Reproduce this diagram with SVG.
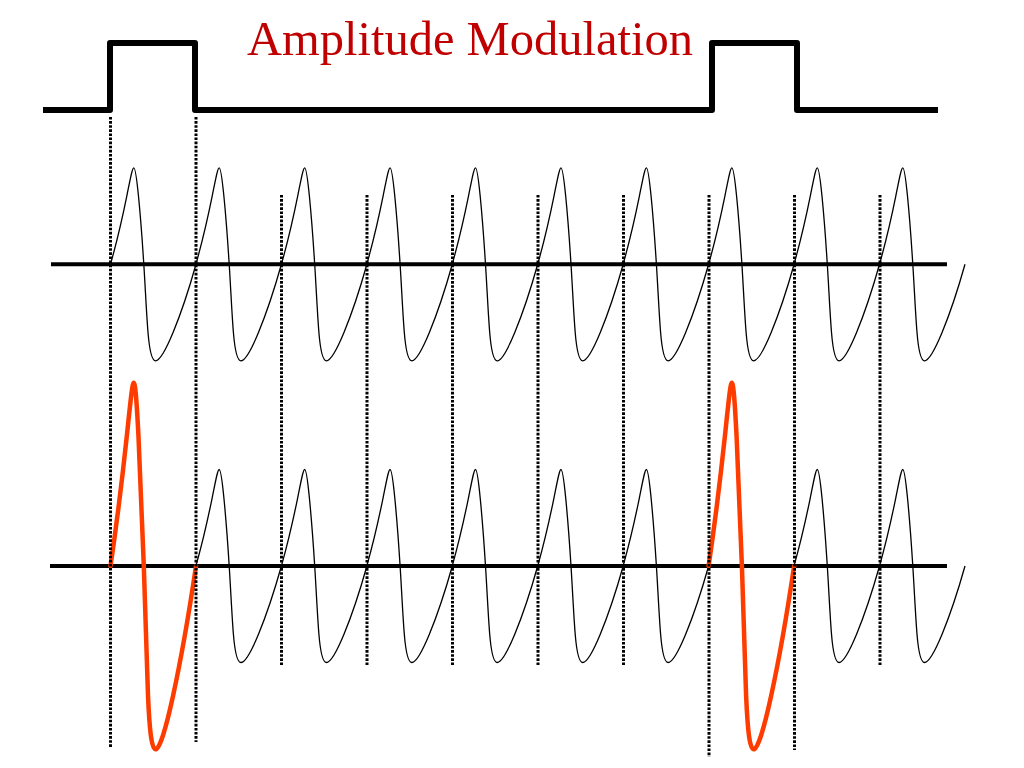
<svg xmlns="http://www.w3.org/2000/svg" xmlns:xlink="http://www.w3.org/1999/xlink" width="1024" height="768" viewBox="0 0 1024 768">
<style>
.sq{fill:none;stroke:#000;stroke-width:6;stroke-linejoin:round;stroke-linecap:butt}
.axis{stroke:#000;stroke-width:4}
.dot{stroke:#000;stroke-width:3;stroke-dasharray:2.6 1.5}
.car{fill:none;stroke:#000;stroke-width:1.3}
.red{fill:none;stroke:#FF3C00;stroke-width:4.5;stroke-linecap:round}
.title{font-family:"Liberation Serif","Times New Roman",serif;font-size:48.5px;fill:#C00000}
</style>
<defs>
<path id="cyc" d="M0,0 C7.1,-25.26 12.67,-50.38 16.29,-68.24 C19.91,-86.1 21.74,-96.5 23.28,-96.5 C24.82,-96.5 26.22,-86.1 27.98,-68.24 C29.74,-50.38 31.7,-25.26 33.3,0 C34.9,25.26 36.03,50.38 37.51,68.24 C38.99,86.1 41.01,96.5 45.03,96.5 C49.04,96.5 55.17,86.1 62.57,68.24 C69.97,50.38 78.4,25.26 85.5,0"/>
<path id="rcyc" d="M0,0 C7.1,-48 12.67,-95.7 16.29,-129.7 C19.91,-163.6 21.74,-183.35 23.28,-183.35 C24.82,-183.35 26.22,-163.6 27.98,-129.7 C29.74,-95.7 31.7,-48 33.3,0 C34.9,48 36.03,95.7 37.51,129.7 C38.99,163.6 41.01,183.35 45.03,183.35 C49.04,183.35 55.17,163.6 62.57,129.7 C69.97,95.7 78.4,48 85.5,0"/>
</defs>
<rect width="1024" height="768" fill="#fff"/>
<g id="title"><text class="title" x="247" y="55">Amplitude Modulation</text></g>
<g id="message">
<path class="sq" d="M43,110 H110 V43 H195 V110 H712 V43 H797 V110 H938"/>
</g>
<g id="carrier">
<line class="axis" x1="51" y1="264.3" x2="947" y2="264.3"/>
<use xlink:href="#cyc" class="car" x="110.5" y="264.3"/>
<use xlink:href="#cyc" class="car" x="195.9" y="264.3"/>
<use xlink:href="#cyc" class="car" x="281.4" y="264.3"/>
<use xlink:href="#cyc" class="car" x="366.8" y="264.3"/>
<use xlink:href="#cyc" class="car" x="452.2" y="264.3"/>
<use xlink:href="#cyc" class="car" x="537.7" y="264.3"/>
<use xlink:href="#cyc" class="car" x="623.1" y="264.3"/>
<use xlink:href="#cyc" class="car" x="708.6" y="264.3"/>
<use xlink:href="#cyc" class="car" x="794" y="264.3"/>
<use xlink:href="#cyc" class="car" x="879.5" y="264.3"/>
</g>
<g id="modulated">
<line class="axis" x1="50" y1="566" x2="947" y2="566"/>
<use xlink:href="#cyc" class="car" x="195.9" y="566"/>
<use xlink:href="#cyc" class="car" x="281.4" y="566"/>
<use xlink:href="#cyc" class="car" x="366.8" y="566"/>
<use xlink:href="#cyc" class="car" x="452.2" y="566"/>
<use xlink:href="#cyc" class="car" x="537.7" y="566"/>
<use xlink:href="#cyc" class="car" x="623.1" y="566"/>
<use xlink:href="#cyc" class="car" x="794" y="566"/>
<use xlink:href="#cyc" class="car" x="879.5" y="566"/>
<use xlink:href="#rcyc" class="red" x="110.5" y="566"/>
<use xlink:href="#rcyc" class="red" x="708.6" y="566"/>
</g>
<g id="connectors">
<line class="dot" x1="110.5" y1="117" x2="110.5" y2="748"/>
<line class="dot" x1="196" y1="117" x2="196" y2="742"/>
<line class="dot" x1="281.5" y1="195" x2="281.5" y2="665"/>
<line class="dot" x1="367" y1="195" x2="367" y2="665"/>
<line class="dot" x1="452.5" y1="195" x2="452.5" y2="665"/>
<line class="dot" x1="538" y1="195" x2="538" y2="665"/>
<line class="dot" x1="623.5" y1="195" x2="623.5" y2="665"/>
<line class="dot" x1="709" y1="195" x2="709" y2="757"/>
<line class="dot" x1="794.5" y1="195" x2="794.5" y2="750"/>
<line class="dot" x1="880" y1="195" x2="880" y2="665"/>
</g>
</svg>
